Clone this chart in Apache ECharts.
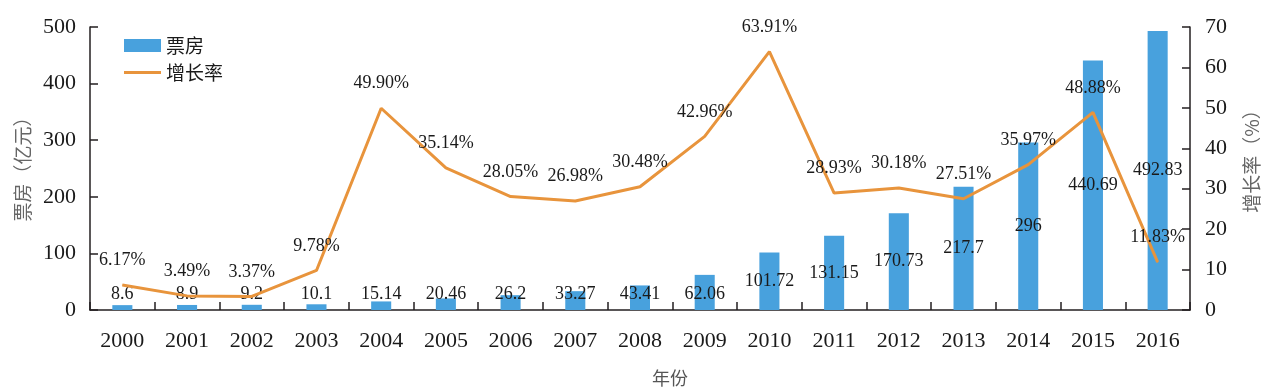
<!DOCTYPE html>
<html><head><meta charset="utf-8">
<script src="https://cdn.jsdelivr.net/npm/echarts@6/dist/echarts.min.js"></script>
<style>html,body{margin:0;padding:0;background:#fff}#c{width:1271px;height:392px}</style>
</head><body><div id="c"></div>
<script>
const years = ['2000','2001','2002','2003','2004','2005','2006','2007','2008','2009','2010','2011','2012','2013','2014','2015','2016'];
const boxOffice = [8.6, 8.9, 9.2, 10.1, 15.14, 20.46, 26.2, 33.27, 43.41, 62.06, 101.72, 131.15, 170.73, 217.7, 296, 440.69, 492.83];
const growth = [6.17, 3.49, 3.37, 9.78, 49.90, 35.14, 28.05, 26.98, 30.48, 42.96, 63.91, 28.93, 30.18, 27.51, 35.97, 48.88, 11.83];
const growthLabels = ['6.17%','3.49%','3.37%','9.78%','49.90%','35.14%','28.05%','26.98%','30.48%','42.96%','63.91%','28.93%','30.18%','27.51%','35.97%','48.88%','11.83%'];
const leftTicks = [0, 100, 200, 300, 400, 500];
const rightTicks = [0, 10, 20, 30, 40, 50, 60, 70];

const serif = '"Liberation Serif", "Noto Sans CJK SC", serif';
const cjk = '"Noto Sans CJK SC", sans-serif';
const txt = '#1a1a1a';
const blue = '#48a1dd';
const orange = '#e8943c';

const chart = echarts.init(document.getElementById('c'), null, {renderer: 'canvas'});
const axisCommon = {
  axisLine: {show: true, lineStyle: {color: '#231f20', width: 1.5}},
  axisTick: {show: true, inside: true, length: 8, lineStyle: {color: '#231f20', width: 1.5}},
  splitLine: {show: false}
};
chart.setOption({
  animation: false,
  grid: {left: 90, right: 81, top: 27, bottom: 79},
  legend: {
    orient: 'vertical', left: 119, top: 31, itemWidth: 37, itemHeight: 13, itemGap: 8,
    textStyle: {fontFamily: cjk, fontSize: 19, color: txt},
    data: [
      {name: '票房', icon: 'rect'},
      {name: '增长率', icon: 'path://M0,0 L0,0 M0,5 L37,5 L37,8 L0,8 Z M37,13 L37,13'}
    ]
  },
  xAxis: Object.assign({}, axisCommon, {
    type: 'category', data: years, boundaryGap: true,
    axisLabel: {color: txt, fontFamily: serif, fontSize: 22, margin: 20},
    name: '年份', nameLocation: 'middle', nameGap: 59,
    nameTextStyle: {fontFamily: cjk, fontSize: 18, color: '#555', padding: [0, 0, 0, 60]}
  }),
  yAxis: [
    Object.assign({}, axisCommon, {
      type: 'value', min: leftTicks[0], max: leftTicks[leftTicks.length - 1], interval: 100,
      name: '票房（亿元）', nameLocation: 'middle', nameGap: 58, nameRotate: 90,
      nameTextStyle: {fontFamily: cjk, fontSize: 19, color: '#666', padding: [0, 0, 0, 8]},
      axisLabel: {color: txt, fontFamily: serif, fontSize: 22, margin: 14}
    }),
    Object.assign({}, axisCommon, {
      type: 'value', position: 'right', min: rightTicks[0], max: rightTicks[rightTicks.length - 1], interval: 10,
      name: '增长率（%）', nameLocation: 'middle', nameGap: 52, nameRotate: 90,
      nameTextStyle: {fontFamily: cjk, fontSize: 19, color: '#666', padding: [0, 0, 0, 24]},
      axisLabel: {color: txt, fontFamily: serif, fontSize: 22, margin: 15}
    })
  ],
  series: [
    {
      name: '票房', type: 'bar', yAxisIndex: 0, barWidth: '31%',
      itemStyle: {color: blue},
      data: boxOffice.map(v => ({
        value: v,
        label: v > 84 ? {position: 'inside'} : {position: 'insideBottom', distance: 7}
      })),
      label: {show: true, color: txt, fontFamily: serif, fontSize: 18, textBorderWidth: 0}
    },
    {
      name: '增长率', type: 'line', yAxisIndex: 1, data: growth, symbol: 'none',
      lineStyle: {color: orange, width: 3}, itemStyle: {color: orange}, z: 3
    },
    {
      name: 'growthLabel', type: 'scatter', yAxisIndex: 1, data: growth, symbolSize: 1,
      itemStyle: {color: orange, opacity: 1}, z: 4, silent: true,
      label: {show: true, position: 'top', distance: 15, color: txt, fontFamily: serif, fontSize: 18,
        opacity: 1, textBorderWidth: 0, formatter: p => growthLabels[p.dataIndex]}
    }
  ]
});
</script></body></html>
